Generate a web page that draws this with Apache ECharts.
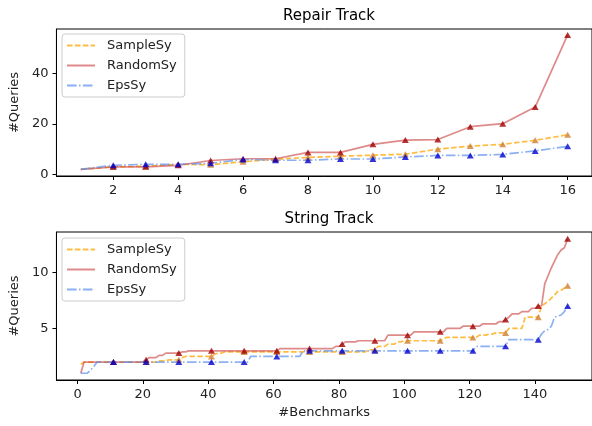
<!DOCTYPE html>
<html>
<head>
<meta charset="utf-8">
<script src="https://cdn.jsdelivr.net/npm/echarts@6/dist/echarts.min.js"></script>
<style>
html, body { margin: 0; padding: 0; background: #fff; }
#main { width: 592px; height: 426px; }
</style>
</head>
<body>
<div id="main"></div>
<script>
var seriesNames = ['SampleSy', 'RandomSy', 'EpsSy'];

// Repair Track: benchmarks 1..16
var repairX = [1, 2, 3, 4, 5, 6, 7, 8, 9, 10, 11, 12, 13, 14, 15, 16];
var repairSample = [2, 3, 3.2, 4, 3.8, 5, 6, 6.7, 7.2, 7.6, 8, 10, 11.2, 11.9, 13.5, 15.7];
var repairRandom = [2, 3, 3, 3.6, 5.5, 6.2, 6.2, 8.7, 8.7, 11.9, 13.6, 13.8, 18.9, 20.1, 26.7, 55.3];
var repairEps = [2, 3.6, 4, 4, 4.4, 5.9, 5.6, 5.6, 6.1, 6.1, 6.9, 7.5, 7.5, 7.9, 9.3, 11.1];
var repairMarks = [1, 2, 3, 4, 5, 6, 7, 8, 9, 10, 11, 12, 13, 14, 15];
var repairXTicks = [2, 4, 6, 8, 10, 12, 14, 16];
var repairYTicks = [0, 20, 40];

// String Track: benchmarks 1..150 (ten per row)
var stringSample = [
  1.8, 2, 2, 2, 2, 2, 2, 2, 2, 2,
  2, 2, 2, 2, 2, 2, 2, 2, 2, 2,
  2, 2, 2, 2, 2.1, 2.1, 2.1, 2.2, 2.2, 2.2,
  2.2, 2.4, 2.5, 2.5, 2.5, 2.5, 2.5, 2.5, 2.5, 2.5,
  2.5, 2.7, 2.8, 2.8, 2.9, 2.9, 2.9, 2.9, 2.9, 2.9,
  2.9, 2.9, 2.9, 2.9, 2.9, 2.9, 2.9, 2.9, 2.9, 2.9,
  2.9, 2.9, 2.9, 2.9, 2.9, 2.9, 2.9, 2.9, 2.9, 2.9,
  2.9, 2.9, 2.9, 2.9, 2.9, 2.9, 2.9, 2.9, 2.9, 2.9,
  2.9, 2.9, 2.9, 2.9, 2.9, 2.9, 2.9, 2.9, 3.1, 3.1,
  3.1, 3.4, 3.4, 3.4, 3.6, 3.6, 3.6, 3.8, 3.8, 3.9,
  3.9, 3.9, 3.9, 3.9, 3.9, 3.9, 3.9, 3.9, 3.9, 3.9,
  3.9, 4.1, 4.2, 4.2, 4.2, 4.2, 4.2, 4.2, 4.2, 4.2,
  4.2, 4.2, 4.4, 4.4, 4.4, 4.5, 4.5, 4.6, 4.6, 4.6,
  4.6, 5, 5, 5, 5, 5, 6, 6, 6, 6,
  6, 7, 7.2, 7.4, 7.7, 8, 8.3, 8.4, 8.6, 8.8
];
var stringRandom = [
  1, 2, 2, 2, 2, 2, 2, 2, 2, 2,
  2, 2, 2, 2, 2, 2, 2, 2, 2, 2,
  2.2, 2.4, 2.4, 2.4, 2.6, 2.6, 2.8, 2.8, 2.8, 2.8,
  2.8, 2.9, 2.9, 3, 3, 3, 3, 3, 3, 3,
  3, 3, 3, 3, 3, 3, 3, 3, 3, 3,
  3, 3, 3, 3, 3, 3, 3, 3, 3, 3,
  3, 3.2, 3.2, 3.2, 3.2, 3.2, 3.2, 3.2, 3.2, 3.2,
  3.2, 3.2, 3.2, 3.2, 3.2, 3.2, 3.2, 3.2, 3.4, 3.4,
  3.6, 3.8, 3.8, 3.8, 3.8, 3.9, 3.9, 3.9, 3.9, 3.9,
  3.9, 3.9, 3.9, 3.9, 4.4, 4.4, 4.4, 4.4, 4.4, 4.4,
  4.4, 4.4, 4.7, 4.7, 4.7, 4.7, 4.7, 4.7, 4.7, 4.7,
  4.7, 4.7, 5, 5, 5, 5, 5, 5.2, 5.2, 5.2,
  5.2, 5.2, 5.2, 5.4, 5.4, 5.4, 5.4, 5.4, 5.6, 5.6,
  5.8, 6, 6.3, 6.3, 6.3, 6.5, 6.5, 6.5, 6.8, 6.8,
  7, 7, 9, 9.7, 10.4, 11, 11.6, 12, 12.2, 13
];
var stringEps = [
  1, 1, 1, 1.3, 1.6, 2, 2, 2, 2, 2,
  2, 2, 2, 2, 2, 2, 2, 2, 2, 2,
  2, 2, 2, 2, 2, 2, 2, 2, 2, 2,
  2, 2, 2, 2, 2, 2, 2, 2, 2, 2,
  2, 2, 2, 2, 2, 2, 2, 2, 2, 2,
  2, 2, 2.5, 2.5, 2.5, 2.5, 2.5, 2.5, 2.5, 2.5,
  2.5, 2.5, 2.5, 2.5, 2.5, 2.5, 2.5, 2.5, 3, 3,
  3, 3, 3, 3, 3, 3, 3, 3, 3, 3,
  3, 3, 3, 3, 3, 3, 3, 3, 3, 3,
  3, 3, 3, 3, 3, 3, 3, 3, 3, 3,
  3, 3, 3, 3, 3, 3, 3, 3, 3, 3,
  3, 3, 3, 3, 3, 3, 3, 3, 3, 3,
  3, 3.4, 3.4, 3.4, 3.4, 3.4, 3.4, 3.4, 3.4, 3.4,
  3.4, 4, 4, 4, 4, 4, 4, 4, 4, 4,
  4, 4.5, 4.8, 4.9, 5.2, 6, 6.1, 6.2, 6.5, 7
];
var stringMarks = [10, 20, 30, 40, 50, 60, 70, 80, 90, 100, 110, 120, 130, 140, 149];
var stringXTicks = [0, 20, 40, 60, 80, 100, 120, 140];
var stringYTicks = [5, 10];

var lineStyles = {
  SampleSy: { color: 'rgba(255,165,0,0.75)', width: 1.7, type: [5.5, 2.4] },
  RandomSy: { color: 'rgba(200,60,60,0.6)', width: 1.7, type: 'solid' },
  EpsSy: { color: 'rgba(100,149,237,0.75)', width: 1.7, type: [9.6, 2.4, 1.5, 2.4] }
};
var markerColors = { SampleSy: '#cd7f32', RandomSy: '#a00000', EpsSy: '#0000cd' };
var font = 'DejaVu Sans';

function pairs(ys) {
  return ys.map(function (y, i) { return [i + 1, y]; });
}
function marked(ys, idx) {
  return idx.map(function (i) { return [i + 1, ys[i]]; });
}

var panels = [
  { data: [repairSample, repairRandom, repairEps], marks: repairMarks },
  { data: [stringSample, stringRandom, stringEps], marks: stringMarks }
];

var series = [];
panels.forEach(function (p, g) {
  seriesNames.forEach(function (name, k) {
    series.push({
      name: name, type: 'line', xAxisIndex: g, yAxisIndex: g,
      data: pairs(p.data[k]), symbol: 'none', lineStyle: lineStyles[name],
      itemStyle: { color: lineStyles[name].color }
    });
  });
  seriesNames.forEach(function (name, k) {
    series.push({
      type: 'scatter', xAxisIndex: g, yAxisIndex: g,
      data: marked(p.data[k], p.marks), symbol: 'triangle', symbolSize: [7, 6],
      itemStyle: { color: markerColors[name] }, z: 3
    });
  });
});

function xAxis(g, min, max, ticks, name) {
  return {
    gridIndex: g, type: 'value', min: min, max: max,
    name: name || '', nameLocation: 'middle', nameGap: 26,
    nameTextStyle: { fontFamily: font, fontSize: 13, color: '#222' },
    axisLine: { show: true, onZero: false, lineStyle: { color: '#000', width: 1 } },
    axisTick: { show: true, length: 4, customValues: ticks, lineStyle: { color: '#000' } },
    axisLabel: { customValues: ticks, margin: 8, fontFamily: font, fontSize: 13, color: '#222' },
    splitLine: { show: false }
  };
}
function yAxis(g, min, max, ticks) {
  return {
    gridIndex: g, type: 'value', min: min, max: max,
    name: '#Queries', nameLocation: 'middle', nameGap: 29, nameRotate: 90,
    nameTextStyle: { fontFamily: font, fontSize: 13, color: '#222' },
    axisLine: { show: true, onZero: false, lineStyle: { color: '#000', width: 1 } },
    axisTick: { show: true, length: 4, customValues: ticks, lineStyle: { color: '#000' } },
    axisLabel: { customValues: ticks, margin: 8, fontFamily: font, fontSize: 13, color: '#222' },
    splitLine: { show: false }
  };
}
function legend(top) {
  return {
    data: seriesNames, orient: 'vertical', left: 62, top: top,
    itemWidth: 28, itemHeight: 14, itemGap: 7,
    padding: [5, 8, 5, 4],
    borderColor: '#ccc', borderWidth: 1, borderRadius: 3,
    backgroundColor: 'rgba(255,255,255,0.8)',
    itemStyle: { opacity: 0 },
    textStyle: { fontFamily: font, fontSize: 13, color: '#222', padding: [0, 0, 0, 7] },
    selectedMode: false
  };
}

var chart = echarts.init(document.getElementById('main'));
chart.setOption({
  animation: false,
  backgroundColor: '#fff',
  title: [
    { text: 'Repair Track', left: 324, top: 4, textAlign: 'center',
      textStyle: { fontFamily: font, fontSize: 15, fontWeight: 'normal', color: '#000' } },
    { text: 'String Track', left: 324, top: 207, textAlign: 'center',
      textStyle: { fontFamily: font, fontSize: 15, fontWeight: 'normal', color: '#000' } }
  ],
  legend: [legend(34), legend(238)],
  grid: [
    { left: 56, top: 29, width: 538, height: 147, show: true, borderColor: '#000', borderWidth: 1 },
    { left: 56, top: 232, width: 538, height: 148, show: true, borderColor: '#000', borderWidth: 1 }
  ],
  xAxis: [
    xAxis(0, 0.25, 16.75, repairXTicks),
    xAxis(1, -6.45, 157.45, stringXTicks, '#Benchmarks')
  ],
  yAxis: [
    yAxis(0, -0.65, 57.65, repairYTicks),
    yAxis(1, 0.4, 13.6, stringYTicks)
  ],
  series: series
});
</script>
</body>
</html>
